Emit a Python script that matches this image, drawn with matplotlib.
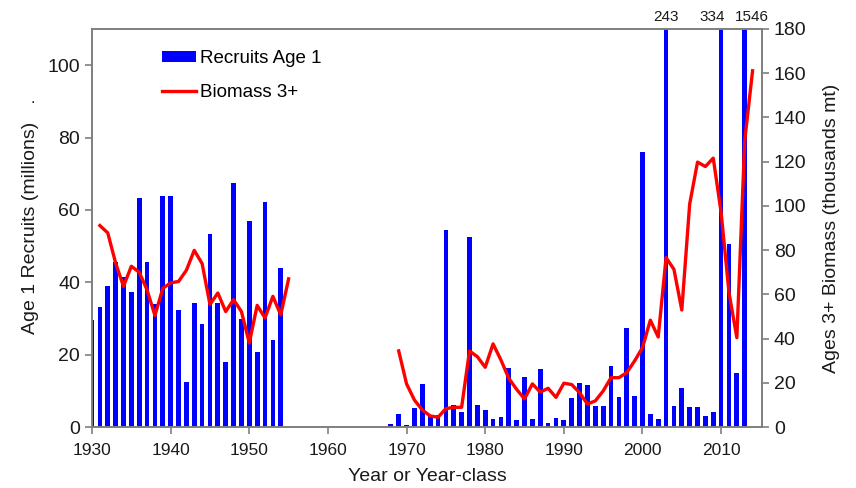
import matplotlib
matplotlib.use("Agg")
import matplotlib.pyplot as plt
import matplotlib.transforms as mtransforms
import numpy as np

plt.rcParams['font.family'] = ['Liberation Sans', 'DejaVu Sans']

# Reclutas edad 1 (millones), dos periodos de datos
anios_rec_1 = list(range(1930, 1955))
reclutas_1 = [29.6, 33.3, 38.9, 45.5, 41.4, 37.2, 63.4, 45.7, 34.1, 63.9,
              63.9, 32.4, 12.5, 34.3, 28.6, 53.4, 34.4, 17.9, 67.4, 29.8,
              56.8, 20.7, 62.3, 24.0, 44.0]
anios_rec_2 = list(range(1968, 2014))
reclutas_2 = [0.7, 3.7, 0.5, 5.2, 11.9, 3.2, 3.3, 54.4, 6.2, 4.2,
              52.5, 6.2, 4.6, 2.3, 2.7, 16.2, 1.8, 13.9, 2.3, 16.0,
              1.0, 2.5, 2.0, 8.1, 12.2, 11.6, 5.8, 5.8, 16.9, 8.3,
              27.4, 8.7, 76.0, 3.7, 2.3, 243, 5.8, 10.7, 5.6, 5.6,
              3.0, 4.1, 334, 50.6, 14.8, 1546]

# Biomasa 3+ (miles de toneladas)
anios_bio_1 = list(range(1931, 1956))
biomasa_1 = [91.1, 87.8, 74.2, 63.6, 72.7, 70.0, 62.0, 50.4, 62.7, 65.2,
             65.8, 70.9, 79.9, 73.9, 55.4, 60.6, 52.2, 57.6, 52.2, 38.0,
             55.0, 49.3, 59.1, 50.7, 67.0]
anios_bio_2 = list(range(1969, 2015))
biomasa_2 = [34.4, 19.5, 12.2, 7.7, 5.0, 4.4, 8.3, 8.9, 8.9, 34.4,
             31.8, 27.0, 37.6, 30.3, 22.0, 17.0, 12.7, 19.5, 15.8, 17.5,
             13.4, 19.8, 19.2, 15.5, 10.4, 11.8, 16.3, 22.3, 22.3, 24.6,
             29.9, 35.9, 48.3, 40.7, 76.6, 71.3, 52.9, 100.8, 119.8, 117.8,
             121.6, 97.0, 60.8, 40.4, 129.4, 161.1]

# Etiquetas de barras fuera de escala
etiquetas_x = [2003, 2008.9, 2013.9]
etiquetas_txt = ["243", "334", "1546"]

gris = '#7f7f7f'

fig = plt.figure(figsize=(8.56, 4.88), dpi=100)
ax = fig.add_axes([0.1075, 0.125, 0.7827, 0.8156])
ax2 = ax.twinx()

barras = ax.bar(anios_rec_1 + anios_rec_2, reclutas_1 + reclutas_2,
                width=0.6, color='#0000ff', label='Recruits Age 1')
linea, = ax2.plot(anios_bio_1, biomasa_1, color='#ff0000', lw=2.4,
                  label='Biomass 3+')
ax2.plot(anios_bio_2, biomasa_2, color='#ff0000', lw=2.4)

ax.set_xlim(1930, 2015.2)
ax.set_ylim(0, 110)
ax2.set_ylim(0, 180)
ax.set_xticks(range(1930, 2020, 10))
ax.set_yticks(range(0, 120, 20))
ax2.set_yticks(range(0, 200, 20))

for a in (ax, ax2):
    for s in a.spines.values():
        s.set_color(gris)
        s.set_linewidth(1.2)
    a.tick_params(colors=gris, labelcolor='#1a1a1a', direction='out',
                  length=5, width=1.2)
ax.tick_params(axis='y', labelsize=14)
ax.tick_params(axis='x', labelsize=12.5, pad=6.5)
ax2.tick_params(axis='y', labelsize=14)

ax.set_xlabel("Year or Year-class", fontsize=14, color='#1a1a1a', labelpad=7.5)
ax.set_ylabel("Age 1 Recruits (millions)", fontsize=14, color='#1a1a1a', labelpad=6)
ax2.set_ylabel("Ages 3+ Biomass (thousands mt)", fontsize=14, color='#1a1a1a', labelpad=12)

trans = mtransforms.blended_transform_factory(ax.transData, ax.transAxes)
for x, t in zip(etiquetas_x, etiquetas_txt):
    ax.text(x, 1.012, t, transform=trans, ha='center', va='bottom',
            fontsize=11, color='#1a1a1a')

fig.text(33 / 856, 1 - 106 / 488, ".", fontsize=12, color='#1a1a1a',
         ha='center', va='bottom')

ax2.legend([barras, linea], ['Recruits Age 1', 'Biomass 3+'],
           loc='upper left', bbox_to_anchor=(0.1045, 0.947), frameon=False,
           fontsize=13.5, borderpad=0, borderaxespad=0, handlelength=1.8,
           handletextpad=0.2, labelspacing=0.9, handleheight=0.6)

fig.savefig("out.png", dpi=100)
